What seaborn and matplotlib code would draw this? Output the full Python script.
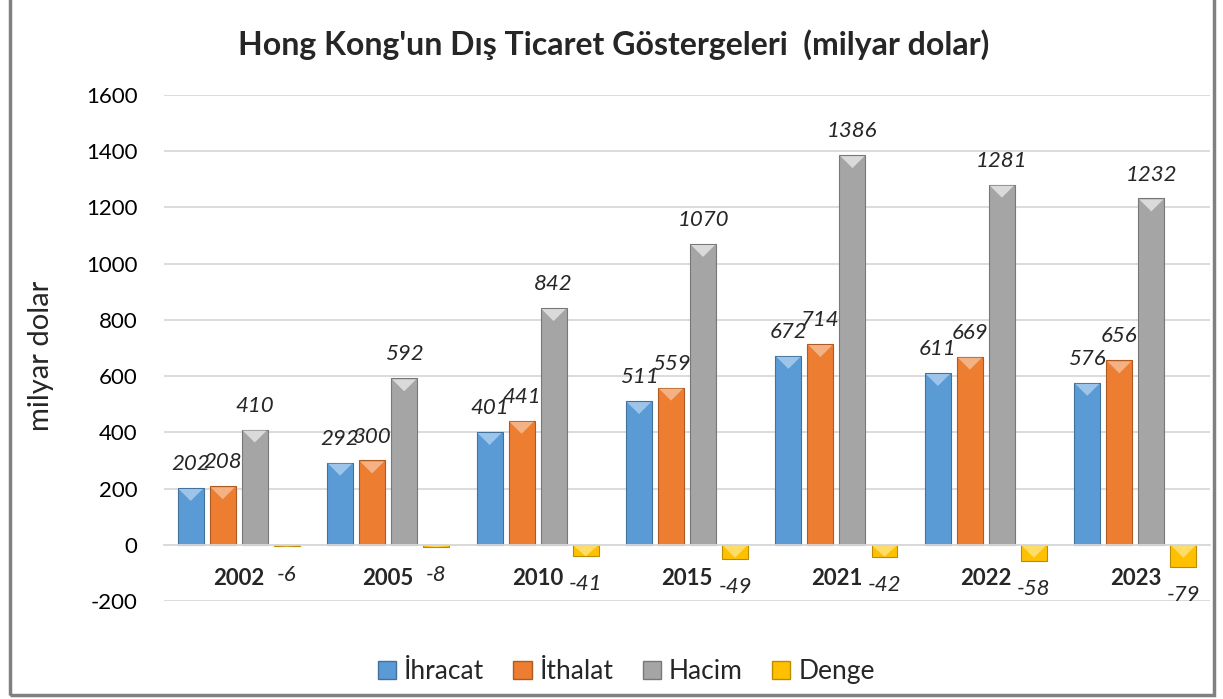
import numpy as np
import pandas as pd
import matplotlib
matplotlib.use('Agg')
import matplotlib.pyplot as plt
import seaborn as sns
from matplotlib.patches import Patch, Polygon, Rectangle
from matplotlib.transforms import IdentityTransform

# Data
years = ['2002', '2005', '2010', '2015', '2021', '2022', '2023']
ihracat = [202, 292, 401, 511, 672, 611, 576]
ithalat = [208, 300, 441, 559, 714, 669, 656]
hacim = [410, 592, 842, 1070, 1386, 1281, 1232]
denge = [-6, -8, -41, -49, -42, -58, -79]
series_names = ['İhracat', 'İthalat', 'Hacim', 'Denge']
colors = ['#5B9BD5', '#ED7D31', '#A5A5A5', '#FFC000']
edge_colors = ['#41719C', '#AE5A21', '#787878', '#BC8C00']
light_colors = ['#A9CDEE', '#F6BC94', '#E4E4E4', '#FFE37A']

df = pd.DataFrame({
    'Yil': years * 4,
    'Deger': ihracat + ithalat + hacim + denge,
    'Seri': [s for s in series_names for _ in years],
})

sns.set_theme(style="white")
plt.rcParams['font.family'] = ['Lato', 'DejaVu Sans']
plt.rcParams['axes.unicode_minus'] = False

fig = plt.figure(figsize=(12.23, 6.99), dpi=100)
ax = fig.add_axes([0.1341, 0.1402, 0.8553, 0.7239])

sns.barplot(data=df, x='Yil', y='Deger', hue='Seri', palette=colors,
            width=0.857, gap=0.19, legend=False, ax=ax, saturation=1)

ax.set_ylim(-200, 1600)
ax.set_yticks(range(-200, 1601, 200))
ax.grid(axis='y', color='#D9D9D9', linewidth=1.3)
ax.set_axisbelow(True)
for s in ['top', 'right', 'left']:
    ax.spines[s].set_visible(False)
ax.spines['bottom'].set_position(('data', 0))
ax.spines['bottom'].set_color('#D9D9D9')
ax.spines['bottom'].set_linewidth(1.3)
ax.tick_params(axis='both', length=0)
ax.tick_params(axis='y', labelsize=16, pad=19, labelcolor='black')
ax.tick_params(axis='x', labelsize=16, pad=17)
for lbl in ax.get_xticklabels():
    lbl.set_fontweight('bold')
ax.set_xlabel('')
ax.set_ylabel('milyar dolar', fontsize=21)
ax.yaxis.set_label_coords(-0.105, 0.484)

# data labels
for i, cont in enumerate(ax.containers):
    if i == 3:
        ax.bar_label(cont, fmt='%d', padding=13, fontsize=16, fontstyle='italic')
    else:
        ax.bar_label(cont, fmt='%d', padding=10, fontsize=16, fontstyle='italic')

# bevel look on the bars (derived from the bar geometry)
fig.canvas.draw()
for i, cont in enumerate(ax.containers):
    for bar in cont:
        x0, y0 = bar.get_x(), bar.get_y()
        w, h = bar.get_width(), bar.get_height()
        bar.set_edgecolor(edge_colors[i])
        bar.set_linewidth(0.8)
        top = max(y0, y0 + h)
        (px0, py), = ax.transData.transform([(x0, top)])
        (px1, _), = ax.transData.transform([(x0 + w, top)])
        bw = px1 - px0
        (_, pbot), = ax.transData.transform([(x0, min(y0, y0 + h))])
        depth = min(bw * 0.5, py - pbot)
        tri = Polygon([(px0 + 1, py - 1), (px1 - 1, py - 1), ((px0 + px1) / 2, py - depth)],
                      closed=True, transform=IdentityTransform(),
                      facecolor=light_colors[i], edgecolor='none', alpha=0.85,
                      zorder=bar.get_zorder() + 0.1)
        fig.add_artist(tri)

handles = [Patch(facecolor=c, edgecolor=e) for c, e in zip(colors, edge_colors)]
fig.legend(handles, series_names, loc='center', bbox_to_anchor=(0.512, 0.039),
           ncol=4, frameon=False, fontsize=19, handlelength=0.7, handleheight=0.7,
           handletextpad=0.3, columnspacing=1.1)

fig.text(0.502, 1 - 45 / 699, "Hong Kong'un Dış Ticaret Göstergeleri  (milyar dolar)",
         fontsize=23, fontweight='bold', ha='center', va='center')

# chart border
fig.add_artist(Rectangle((0.008, 0.006), 0.985, 1.1, transform=fig.transFigure,
                         fill=False, edgecolor='#808080', linewidth=2.5, clip_on=False))

plt.savefig('out.png', dpi=100)
